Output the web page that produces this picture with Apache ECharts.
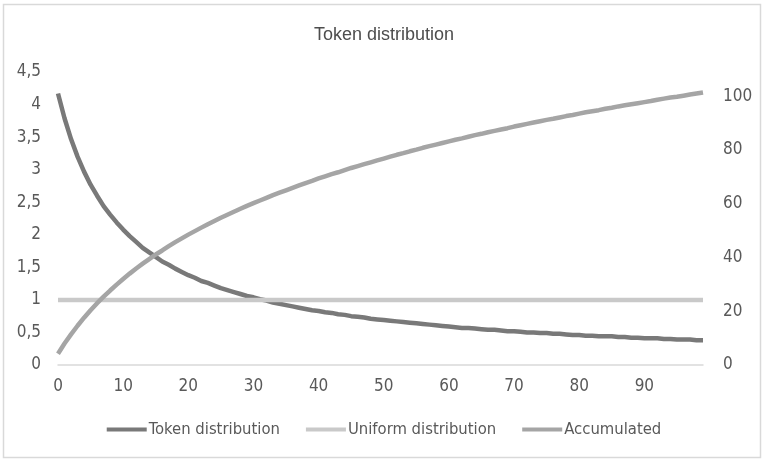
<!DOCTYPE html>
<html>
<head>
<meta charset="utf-8">
<script src="https://cdn.jsdelivr.net/npm/echarts@6/dist/echarts.min.js"></script>
<style>
html,body{margin:0;padding:0;background:#fff;}
#c{width:768px;height:466px;}
</style>
</head>
<body>
<div id="c"></div>
<script>
var categories = [];
for (var i = 0; i < 100; i++) categories.push(String(i));

var tokenDistribution = [
4.17,3.79,3.47,3.20,2.97,2.77,2.60,2.44,2.31,2.19,
2.08,1.98,1.89,1.80,1.73,1.66,1.59,1.54,1.48,1.43,
1.38,1.34,1.29,1.26,1.22,1.18,1.15,1.12,1.09,1.06,
1.04,1.01,0.99,0.96,0.94,0.92,0.90,0.88,0.86,0.84,
0.83,0.81,0.80,0.78,0.77,0.75,0.74,0.73,0.71,0.70,
0.69,0.68,0.67,0.66,0.65,0.64,0.63,0.62,0.61,0.60,
0.59,0.58,0.57,0.57,0.56,0.55,0.54,0.54,0.53,0.52,
0.52,0.51,0.50,0.50,0.49,0.49,0.48,0.48,0.47,0.46,
0.46,0.45,0.45,0.44,0.44,0.44,0.43,0.43,0.42,0.42,
0.41,0.41,0.41,0.40,0.40,0.39,0.39,0.39,0.38,0.38
];

var uniformDistribution = [
1,1,1,1,1,1,1,1,1,1,
1,1,1,1,1,1,1,1,1,1,
1,1,1,1,1,1,1,1,1,1,
1,1,1,1,1,1,1,1,1,1,
1,1,1,1,1,1,1,1,1,1,
1,1,1,1,1,1,1,1,1,1,
1,1,1,1,1,1,1,1,1,1,
1,1,1,1,1,1,1,1,1,1,
1,1,1,1,1,1,1,1,1,1,
1,1,1,1,1,1,1,1,1,1
];

var accumulated = [
4.2,8.0,11.4,14.6,17.6,20.4,23.0,25.4,27.7,29.9,
32.0,34.0,35.9,37.7,39.4,41.1,42.6,44.2,45.7,47.1,
48.5,49.8,51.1,52.4,53.6,54.8,55.9,57.0,58.1,59.2,
60.2,61.2,62.2,63.2,64.1,65.0,65.9,66.8,67.7,68.5,
69.4,70.2,71.0,71.7,72.5,73.3,74.0,74.7,75.4,76.1,
76.8,77.5,78.2,78.8,79.5,80.1,80.8,81.4,82.0,82.6,
83.2,83.8,84.3,84.9,85.5,86.0,86.6,87.1,87.6,88.1,
88.7,89.2,89.7,90.2,90.7,91.2,91.6,92.1,92.6,93.0,
93.5,94.0,94.4,94.8,95.3,95.7,96.2,96.6,97.0,97.4,
97.8,98.2,98.7,99.1,99.5,99.8,100.2,100.6,101.0,101.4
];

var seriesNames = ['Token distribution', 'Uniform distribution', 'Accumulated'];
var title = 'Token distribution';

var FONT = "'DejaVu Sans Condensed', sans-serif";
var TXT = '#595959';

var chart = echarts.init(document.getElementById('c'), null, {renderer: 'canvas'});
chart.setOption({
  animation: false,
  backgroundColor: '#fff',
  title: {
    text: title,
    left: 'center',
    top: 21,
    textStyle: {fontFamily: "'Liberation Sans', Arial, sans-serif", fontSize: 18, fontWeight: 'normal', color: '#4d4d4d'}
  },
  graphic: [{
    type: 'rect',
    shape: {x: 3.5, y: 4.5, width: 757, height: 453},
    style: {fill: 'none', stroke: '#d9d9d9', lineWidth: 1.5},
    silent: true
  }],
  legend: {
    bottom: 23,
    left: 'center',
    itemWidth: 40,
    itemHeight: 4,
    itemGap: 26,
    icon: 'rect',
    textStyle: {fontFamily: FONT, fontSize: 16.5, color: TXT, padding: [0, 0, 0, -3]},
    data: seriesNames
  },
  grid: {left: 58, right: 65, top: 72, bottom: 101, containLabel: false},
  xAxis: {
    type: 'category',
    data: categories,
    boundaryGap: false,
    axisLine: {show: true, lineStyle: {color: '#d9d9d9', width: 1.5}},
    axisTick: {show: false},
    axisLabel: {interval: 9, margin: 13, fontFamily: FONT, fontSize: 17, color: TXT}
  },
  yAxis: [{
    type: 'value',
    min: 0, max: 4.5, interval: 0.5,
    axisLine: {show: false},
    axisTick: {show: false},
    splitLine: {show: false},
    axisLabel: {
      margin: 17, fontFamily: FONT, fontSize: 17, color: TXT,
      formatter: function (v) { return String(Math.round(v * 10) / 10).replace('.', ','); }
    }
  }, {
    type: 'value',
    min: 0, max: 109, interval: 20,
    position: 'right',
    axisLine: {show: false},
    axisTick: {show: false},
    splitLine: {show: false},
    axisLabel: {
      margin: 20, fontFamily: FONT, fontSize: 17, color: TXT,
      formatter: function (v) { return (v % 20 === 0) ? String(v) : ''; }
    }
  }],
  series: [{
    name: seriesNames[0],
    type: 'line',
    yAxisIndex: 0,
    data: tokenDistribution,
    showSymbol: false,
    smooth: false,
    lineStyle: {color: '#797979', width: 4.5},
    itemStyle: {color: '#797979'}
  }, {
    name: seriesNames[1],
    type: 'line',
    yAxisIndex: 0,
    data: uniformDistribution,
    showSymbol: false,
    lineStyle: {color: '#c9c9c9', width: 4.5},
    itemStyle: {color: '#c9c9c9'}
  }, {
    name: seriesNames[2],
    type: 'line',
    yAxisIndex: 1,
    data: accumulated,
    showSymbol: false,
    lineStyle: {color: '#a5a5a5', width: 4.5},
    itemStyle: {color: '#a5a5a5'}
  }]
});
</script>
</body>
</html>
